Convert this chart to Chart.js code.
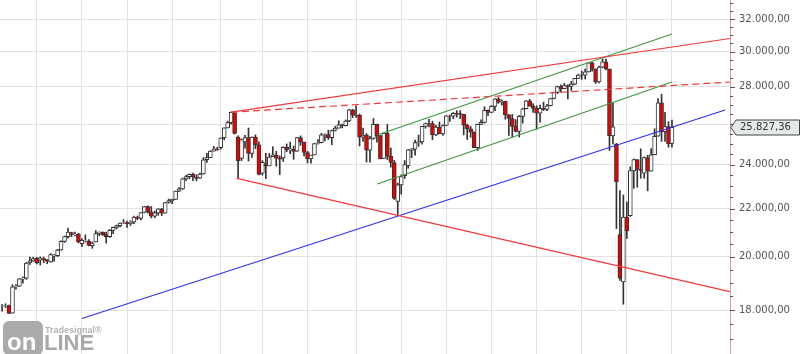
<!DOCTYPE html>
<html>
<head>
<meta charset="utf-8">
<script src="https://cdn.jsdelivr.net/npm/chart.js@4.4.0/dist/chart.umd.min.js"></script>
<style>
  html, body { margin: 0; padding: 0; background: #fff; }
  canvas { display: block; }
</style>
</head>
<body>
<canvas id="chart" width="800" height="354"></canvas>
<script>
// weekly candles, first week starts Monday 2016-10-17
const firstWeek = Date.UTC(2016, 9, 17);

const opens = [
  18140, 18150, 18160, 17890, 18850, 18870, 19150, 19170, 19760, 19840, 19940,
  19870, 19930, 19870, 19800, 20030, 20050, 20280, 20620, 20810, 20980, 20900, 20920, 20530, 20650, 20620, 20450,
  20600, 20950, 21000, 20900, 20810, 21070, 21200, 21270, 21390, 21400, 21360, 21420, 21640, 21580, 21830, 22090,
  21860, 21670, 21810, 21980, 21800, 22270, 22350, 22400, 22770, 22870, 23330, 23430, 23540, 23420, 23360, 23560,
  24230, 24330, 24650, 24750,
  24810, 25310, 25800, 26070, 26580, 25340, 24300, 25100, 25320, 24540, 25340, 24960, 23600, 24030, 23940, 24380,
  24460, 24310, 24320, 24830, 24710, 24750, 24640, 25320, 25090, 24580, 24270, 24460, 25020, 25060, 25450, 25460,
  25310, 25670, 25790, 25960, 25920, 26160, 26740, 26460, 26450, 25340, 25440, 24690, 25270, 25990, 25410, 24290,
  25540, 24390, 24100, 22320,
  23060, 23480, 23950, 24680, 24740, 25060, 25100, 25880, 26030, 26030, 25450, 25850, 25500, 25930, 26420, 26410,
  26560, 26540, 26500, 25940, 25760, 25590, 24820, 25980, 26090, 26710, 26600, 26920, 27330, 27150, 27190, 26480,
  26290, 25890, 25630, 26400, 26800, 27220, 26940, 26820, 26570, 26820, 26770, 26960, 27350, 27680, 28000, 27880,
  28050, 28010, 28140, 28460,
  28650, 28640, 28820, 29350, 28990, 28260, 29100, 29400, 28990, 25400, 24990, 20900, 19030, 21640, 21700, 23700,
  24240, 23780, 23600, 24330, 23690, 24470, 25380, 27120, 25610, 25870, 25020
];
const highs = [
  18200, 18230, 18180, 18930, 18930, 19160, 19230, 19780, 19990, 19990, 19980,
  19999, 19990, 19900, 20130, 20100, 20300, 20640, 20840, 21170, 21000, 21000, 20950, 20740, 20890, 20690, 20600,
  21070, 21010, 21010, 21000, 21110, 21210, 21300, 21390, 21530, 21460, 21480, 21680, 21680, 21830, 22100, 22120,
  22090, 21900, 22000, 22010, 22270, 22420, 22420, 22780, 22930, 23370, 23490, 23560, 23600, 23530, 23600, 24330,
  24540, 24670, 24880, 24840,
  25300, 25810, 26150, 26620, 26610, 25400, 25250, 25430, 25800, 25350, 25450, 25100, 24190, 24540, 24530, 24860,
  24640, 24420, 24860, 25000, 25090, 24900, 25330, 25400, 25090, 24640, 24460, 25020, 25210, 25530, 25510, 25690,
  25700, 25890, 26170, 26000, 26210, 26770, 26770, 26950, 26520, 25800, 25520, 25380, 26290, 26000, 25420, 25540,
  25980, 24800, 24200, 23140,
  23520, 24190, 24720, 24780, 25190, 25440, 25890, 26050, 26240, 26150, 25930, 26110, 25960, 26450, 26470, 26600,
  26700, 26700, 26500, 26000, 25880, 25600, 26000, 26220, 26910, 26740, 26970, 27340, 27400, 27270, 27200, 26500,
  26500, 26230, 26440, 26830, 27240, 27300, 27080, 26960, 27000, 27150, 27030, 27360, 27700, 28030, 28090, 28170,
  28100, 28290, 28460, 28700,
  28870, 28990, 29370, 29370, 29000, 29160, 29570, 29560, 28990, 27100, 25030, 22800, 22600, 22290, 23900, 24270,
  24240, 24760, 24370, 24450, 24770, 25760, 27340, 27580, 26610, 26120, 26200
];
const lows = [
  17960, 18090, 17880, 17890, 18760, 18860, 18990, 19130, 19700, 19820, 19720,
  19680, 19770, 19730, 19790, 19830, 20010, 20270, 20580, 20750, 20810, 20840, 20560, 20410, 20590, 20440, 20340,
  20600, 20850, 20860, 20550, 20780, 20940, 21140, 21220, 21360, 21200, 21280, 21360, 21520, 21510, 21820, 21800,
  21600, 21600, 21710, 21700, 21800, 22240, 22220, 22400, 22750, 22850, 23250, 23330, 23250, 23240, 23350, 23550,
  24100, 24330, 24650, 24690,
  24740, 25200, 25800, 26000, 25490, 23360, 24190, 24790, 24170, 24340, 24770, 23510, 23500, 23340, 23940, 24380,
  23920, 23530, 24150, 24620, 24520, 24250, 24630, 24930, 24420, 24080, 24070, 24460, 24990, 25050, 25150, 25220,
  24960, 25650, 25790, 25800, 25900, 26120, 26330, 26350, 24900, 25130, 24120, 24120, 25230, 25090, 24270, 24290,
  24240, 23880, 22400, 21710,
  22640, 23350, 23830, 24330, 24450, 24880, 24990, 25790, 25850, 25210, 25410, 25500, 25420, 25930, 26140, 26280,
  26360, 26280, 25450, 25220, 25330, 24810, 24680, 25970, 26050, 26440, 26600, 26700, 27080, 26990, 26250, 25420,
  25340, 25600, 25340, 26050, 26790, 26930, 26610, 25740, 26100, 26700, 26700, 26950, 27330, 27610, 27690, 27870,
  27320, 27780, 28100, 28450,
  28400, 28420, 28820, 28860, 28170, 28200, 29060, 28940, 24680, 25000, 21150, 19090, 18210, 20740, 21660, 22900,
  22950, 23360, 23360, 22790, 23690, 24470, 25380, 25130, 25130, 24840, 24840
];
const closes = [
  18145, 18161, 17888, 18847, 18868, 19152, 19170, 19757, 19843, 19933, 19763,
  19964, 19886, 19827, 20094, 20071, 20269, 20624, 20822, 21005, 20903, 20914, 20596, 20663, 20656, 20453, 20548,
  20940, 21007, 20896, 20804, 21080, 21206, 21272, 21384, 21395, 21350, 21414, 21638, 21580, 21830, 22092, 21858,
  21675, 21813, 21988, 21798, 22268, 22350, 22405, 22773, 22872, 23329, 23434, 23539, 23422, 23358, 23558, 24231,
  24329, 24651, 24754, 24719,
  25296, 25803, 26072, 26617, 25521, 24190, 25219, 25310, 24538, 25336, 24946, 23533, 24103, 23933, 24360, 24463,
  24311, 24263, 24831, 24715, 24753, 24635, 25317, 25090, 24581, 24271, 24456, 25019, 25058, 25451, 25463, 25313,
  25669, 25790, 25965, 25917, 26155, 26744, 26458, 26447, 25340, 25444, 24689, 25271, 25989, 25413, 24286, 25538,
  24389, 24101, 22445, 23062,
  23433, 23996, 24706, 24737, 25064, 25106, 25883, 26031, 26026, 25450, 25849, 25502, 25929, 26425, 26412, 26559,
  26543, 26505, 25942, 25764, 25586, 24815, 25984, 26090, 26719, 26600, 26922, 27332, 27154, 27192, 26485, 26287,
  25886, 25629, 26403, 26797, 27220, 26935, 26820, 26573, 26817, 26770, 26958, 27347, 27681, 28005, 27876, 28051,
  28015, 28135, 28455, 28645,
  28635, 28824, 29348, 28990, 28256, 29103, 29398, 28992, 25409, 25865, 23186, 19174, 21637, 21053, 23719, 24242,
  23775, 23724, 24331, 23685, 24465, 25383, 27111, 25606, 25871, 25016, 25827.36
];

// price axis labels
const yTicks = [18000, 20000, 22000, 24000, 26000, 28000, 30000, 32000];

// trend lines as [week index, price] end points
const redUpperLine = [[66, 26617], [209.7, 30790]];
const redDashedLine = [[66, 26617], [209.7, 28254]];
const redLowerLine = [[67.6, 23357], [209.7, 18670]];
const blueLine = [[23.0, 17706], [208.3, 26733]];
const greenUpperLine = [[108.1, 25445], [193.0, 31065]];
const greenLowerLine = [[108.1, 23094], [193.0, 28254]];

function fmt(v) {
  const parts = Number(v).toFixed(2).split('.');
  return parts[0].replace(/\B(?=(\d{3})+(?!\d))/g, '.') + ',' + parts[1];
}

// grid at the week that holds the first day of each quarter
function quarterWeeks() {
  const out = [];
  const day = 864e5;
  for (let i = 0; i < closes.length; i++) {
    for (let k = 0; k < 7; k++) {
      const d = new Date(firstWeek + (i * 7 + k) * day);
      if (d.getUTCDate() === 1 && d.getUTCMonth() % 3 === 0) out.push(i);
    }
  }
  return out;
}

const pts = arr => arr.map(p => ({ x: p[0], y: p[1] }));
const trend = (arr, color, dash) => ({
  type: 'line',
  data: pts(arr),
  borderColor: color,
  borderWidth: 1.2,
  borderDash: dash || [],
  pointRadius: 0,
  fill: false,
  order: 0
});

const axisExtras = {
  id: 'axisExtras',
  afterDraw(chart) {
    const ctx = chart.ctx;
    const y = chart.scales.y;
    const x0 = chart.chartArea.right;
    ctx.save();

    // minor + major tick marks on the price axis
    ctx.strokeStyle = '#555';
    ctx.lineWidth = 1;
    for (let v = 16500; v <= 33000; v += 500) {
      const py = Math.round(y.getPixelForValue(v)) + 0.5;
      const len = v % 2000 === 0 ? 5 : 3;
      ctx.beginPath();
      ctx.moveTo(x0, py);
      ctx.lineTo(x0 + len, py);
      ctx.stroke();
    }

    // last price marker
    const last = closes[closes.length - 1];
    const py = Math.round(y.getPixelForValue(last)) + 0.5;
    ctx.beginPath();
    ctx.moveTo(x0 + 1, py);
    ctx.lineTo(x0 + 6, py - 7.5);
    ctx.lineTo(799.5, py - 7.5);
    ctx.lineTo(799.5, py + 7.5);
    ctx.lineTo(x0 + 6, py + 7.5);
    ctx.closePath();
    ctx.fillStyle = '#e5e9e5';
    ctx.fill();
    ctx.strokeStyle = '#444';
    ctx.stroke();
    ctx.fillStyle = '#333';
    ctx.font = '10px "DejaVu Sans"';
    ctx.textBaseline = 'middle';
    ctx.textAlign = 'left';
    ctx.fillText(fmt(last), x0 + 10, py);

    // Tradesignal Online logo
    ctx.fillStyle = '#aaa';
    ctx.beginPath();
    ctx.roundRect(3, 321, 40, 34, 6);
    ctx.fill();
    ctx.fillStyle = '#fff';
    ctx.font = 'bold 24px "Liberation Sans"';
    ctx.textBaseline = 'alphabetic';
    ctx.fillText('on', 7, 350);
    ctx.fillStyle = '#a8a8a8';
    ctx.font = 'bold 22px "Liberation Sans"';
    ctx.fillText('LINE', 44, 350);
    ctx.fillStyle = '#b4b4b4';
    ctx.font = 'bold 9px "Liberation Sans"';
    ctx.fillText('Tradesignal\u00AE', 45, 333);
    ctx.restore();
  }
};

new Chart(document.getElementById('chart'), {
  type: 'bar',
  data: {
    datasets: [
      {
        type: 'bar',
        data: closes.map((c, i) => ({ x: i, y: [lows[i], highs[i]] })),
        backgroundColor: '#333',
        borderWidth: 0,
        barThickness: 1,
        grouped: false,
        order: 3
      },
      {
        type: 'bar',
        data: closes.map((c, i) => ({ x: i, y: [opens[i], c] })),
        backgroundColor: closes.map((c, i) => (c < opens[i] ? '#e60000' : '#ffffff')),
        borderColor: '#333',
        borderWidth: 1,
        borderSkipped: false,
        barThickness: 4,
        grouped: false,
        order: 2
      },
      trend(redUpperLine, '#f03a3a'),
      trend(redDashedLine, '#f03a3a', [7, 4]),
      trend(redLowerLine, '#f03a3a'),
      trend(blueLine, '#3030f0'),
      trend(greenUpperLine, '#3c9a3c'),
      trend(greenLowerLine, '#3c9a3c')
    ]
  },
  options: {
    responsive: false,
    animation: false,
    events: [],
    layout: { padding: 0, autoPadding: false },
    plugins: { legend: { display: false }, tooltip: { enabled: false } },
    scales: {
      x: {
        type: 'linear',
        offset: false,
        min: -0.594,
        max: 209.72,
        afterBuildTicks: s => { s.ticks = quarterWeeks().map(v => ({ value: v })); },
        afterFit: s => { s.height = 0; s.paddingLeft = 0; s.paddingRight = 0; },
        ticks: { display: false },
        grid: { color: '#e2e2e2', drawTicks: false, offset: false },
        border: { display: false }
      },
      y: {
        type: 'logarithmic',
        position: 'right',
        min: 16506,
        max: 33225,
        afterBuildTicks: s => { s.ticks = yTicks.map(v => ({ value: v })); },
        afterFit: s => { s.width = 70; s.paddingTop = 0; s.paddingBottom = 0; },
        grid: { color: '#e2e2e2', drawTicks: false },
        border: { color: '#d9a0a0' },
        ticks: {
          padding: 9,
          color: '#555',
          autoSkip: false,
          font: { family: 'DejaVu Sans', size: 10 },
          callback: v => (v === 26000 ? '' : fmt(v))
        }
      }
    }
  },
  plugins: [axisExtras]
});
</script>
</body>
</html>
